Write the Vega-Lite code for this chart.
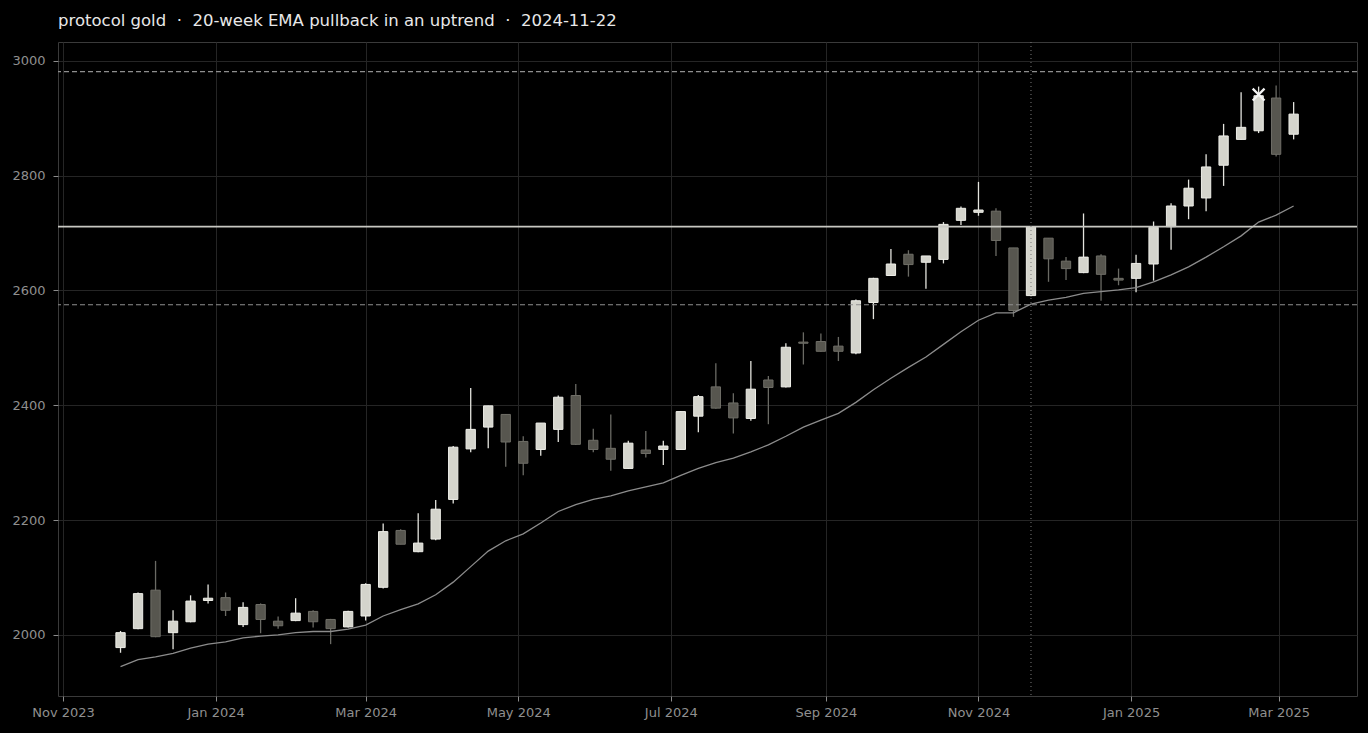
{
  "$schema": "https://vega.github.io/schema/vega-lite/v6.json",
  "description": "protocol gold weekly candles with 20-week EMA",
  "autosize": {"type": "none"},
  "width": 1299,
  "height": 654,
  "padding": {"left": 58, "top": 42, "right": 11, "bottom": 37},
  "background": "#000000",
  "title": {
    "text": "protocol gold\u00a0 · \u00a020-week EMA pullback in an uptrend\u00a0 · \u00a02024-11-22",
    "anchor": "start",
    "frame": "group",
    "offset": 12,
    "font": "DejaVu Sans",
    "fontSize": 16.5,
    "fontWeight": "normal",
    "color": "#e8e8e8"
  },
  "config": {
    "view": {"stroke": "#3a3a3a", "fill": "#000000"},
    "axis": {
      "domain": false,
      "grid": true,
      "gridColor": "#252525",
      "gridWidth": 1,
      "tickColor": "#8c8c8c",
      "tickSize": 5,
      "labelColor": "#8f8f8f",
      "labelFont": "DejaVu Sans",
      "labelFontSize": 13,
      "title": null,
      "zindex": 1
    }
  },
  "datasets": {
    "candles": [
      {"date": "2023-11-24", "open": 1978, "high": 2007, "low": 1969, "close": 2004, "ema": 1945},
      {"date": "2023-12-01", "open": 2011, "high": 2074, "low": 2010, "close": 2072, "ema": 1957},
      {"date": "2023-12-08", "open": 2078, "high": 2129, "low": 1996, "close": 1997, "ema": 1962},
      {"date": "2023-12-15", "open": 2004, "high": 2043, "low": 1975, "close": 2024, "ema": 1968},
      {"date": "2023-12-22", "open": 2023, "high": 2069, "low": 2022, "close": 2059, "ema": 1977},
      {"date": "2023-12-29", "open": 2060, "high": 2088, "low": 2055, "close": 2064, "ema": 1984},
      {"date": "2024-01-05", "open": 2065, "high": 2074, "low": 2033, "close": 2043, "ema": 1988},
      {"date": "2024-01-12", "open": 2018, "high": 2057, "low": 2014, "close": 2048, "ema": 1995},
      {"date": "2024-01-19", "open": 2053, "high": 2055, "low": 2003, "close": 2027, "ema": 1998},
      {"date": "2024-01-26", "open": 2024, "high": 2032, "low": 2011, "close": 2016, "ema": 2000},
      {"date": "2024-02-02", "open": 2025, "high": 2064, "low": 2024, "close": 2038, "ema": 2004},
      {"date": "2024-02-09", "open": 2041, "high": 2043, "low": 2013, "close": 2023, "ema": 2006},
      {"date": "2024-02-16", "open": 2027, "high": 2028, "low": 1984, "close": 2011, "ema": 2006},
      {"date": "2024-02-23", "open": 2014, "high": 2042, "low": 2013, "close": 2041, "ema": 2010},
      {"date": "2024-03-01", "open": 2033, "high": 2090, "low": 2025, "close": 2088, "ema": 2017},
      {"date": "2024-03-08", "open": 2083, "high": 2194, "low": 2081, "close": 2180, "ema": 2033},
      {"date": "2024-03-15", "open": 2182, "high": 2184, "low": 2158, "close": 2158, "ema": 2044},
      {"date": "2024-03-22", "open": 2145, "high": 2212, "low": 2144, "close": 2160, "ema": 2054},
      {"date": "2024-03-29", "open": 2167, "high": 2235, "low": 2165, "close": 2219, "ema": 2070},
      {"date": "2024-04-05", "open": 2236, "high": 2329, "low": 2229, "close": 2327, "ema": 2092},
      {"date": "2024-04-12", "open": 2324, "high": 2430, "low": 2318, "close": 2358, "ema": 2119},
      {"date": "2024-04-19", "open": 2362, "high": 2399, "low": 2325, "close": 2399, "ema": 2146},
      {"date": "2024-04-26", "open": 2384, "high": 2385, "low": 2293, "close": 2336, "ema": 2164},
      {"date": "2024-05-03", "open": 2337, "high": 2346, "low": 2278, "close": 2299, "ema": 2176},
      {"date": "2024-05-10", "open": 2323, "high": 2369, "low": 2312, "close": 2369, "ema": 2195},
      {"date": "2024-05-17", "open": 2358, "high": 2417, "low": 2336, "close": 2414, "ema": 2215},
      {"date": "2024-05-24", "open": 2417, "high": 2437, "low": 2331, "close": 2332, "ema": 2227},
      {"date": "2024-05-31", "open": 2339, "high": 2359, "low": 2318, "close": 2323, "ema": 2236},
      {"date": "2024-06-07", "open": 2325, "high": 2384, "low": 2286, "close": 2306, "ema": 2242},
      {"date": "2024-06-14", "open": 2290, "high": 2338, "low": 2289, "close": 2334, "ema": 2251},
      {"date": "2024-06-21", "open": 2322, "high": 2355, "low": 2309, "close": 2316, "ema": 2258},
      {"date": "2024-06-28", "open": 2323, "high": 2338, "low": 2296, "close": 2329, "ema": 2265},
      {"date": "2024-07-05", "open": 2323, "high": 2390, "low": 2322, "close": 2389, "ema": 2278},
      {"date": "2024-07-12", "open": 2381, "high": 2418, "low": 2353, "close": 2415, "ema": 2290},
      {"date": "2024-07-19", "open": 2432, "high": 2473, "low": 2394, "close": 2395, "ema": 2300},
      {"date": "2024-07-26", "open": 2404, "high": 2421, "low": 2351, "close": 2378, "ema": 2308},
      {"date": "2024-08-02", "open": 2377, "high": 2477, "low": 2373, "close": 2428, "ema": 2319},
      {"date": "2024-08-09", "open": 2444, "high": 2451, "low": 2367, "close": 2431, "ema": 2331},
      {"date": "2024-08-16", "open": 2432, "high": 2508, "low": 2431, "close": 2501, "ema": 2346},
      {"date": "2024-08-23", "open": 2510, "high": 2527, "low": 2471, "close": 2508, "ema": 2362},
      {"date": "2024-08-30", "open": 2511, "high": 2525, "low": 2493, "close": 2494, "ema": 2374},
      {"date": "2024-09-06", "open": 2503, "high": 2519, "low": 2477, "close": 2494, "ema": 2386},
      {"date": "2024-09-13", "open": 2491, "high": 2584, "low": 2489, "close": 2582, "ema": 2405},
      {"date": "2024-09-20", "open": 2579, "high": 2622, "low": 2550, "close": 2621, "ema": 2427},
      {"date": "2024-09-27", "open": 2626, "high": 2672, "low": 2625, "close": 2646, "ema": 2447},
      {"date": "2024-10-04", "open": 2663, "high": 2670, "low": 2624, "close": 2645, "ema": 2466},
      {"date": "2024-10-11", "open": 2649, "high": 2660, "low": 2603, "close": 2660, "ema": 2484},
      {"date": "2024-10-18", "open": 2654, "high": 2719, "low": 2647, "close": 2715, "ema": 2506},
      {"date": "2024-10-25", "open": 2722, "high": 2746, "low": 2714, "close": 2743, "ema": 2528},
      {"date": "2024-11-01", "open": 2736, "high": 2789, "low": 2730, "close": 2740, "ema": 2548},
      {"date": "2024-11-08", "open": 2738, "high": 2743, "low": 2660, "close": 2687, "ema": 2561},
      {"date": "2024-11-15", "open": 2674, "high": 2674, "low": 2554, "close": 2565, "ema": 2561},
      {"date": "2024-11-22", "open": 2591, "high": 2712, "low": 2590, "close": 2711, "ema": 2576},
      {"date": "2024-11-29", "open": 2691, "high": 2691, "low": 2615, "close": 2655, "ema": 2583},
      {"date": "2024-12-06", "open": 2651, "high": 2658, "low": 2618, "close": 2638, "ema": 2588},
      {"date": "2024-12-13", "open": 2631, "high": 2734, "low": 2630, "close": 2658, "ema": 2595},
      {"date": "2024-12-20", "open": 2660, "high": 2663, "low": 2582, "close": 2628, "ema": 2598},
      {"date": "2024-12-27", "open": 2621, "high": 2638, "low": 2609, "close": 2618, "ema": 2601},
      {"date": "2025-01-03", "open": 2621, "high": 2662, "low": 2597, "close": 2647, "ema": 2605},
      {"date": "2025-01-10", "open": 2646, "high": 2720, "low": 2617, "close": 2710, "ema": 2615},
      {"date": "2025-01-17", "open": 2711, "high": 2752, "low": 2671, "close": 2747, "ema": 2627},
      {"date": "2025-01-24", "open": 2747, "high": 2793, "low": 2724, "close": 2778, "ema": 2641},
      {"date": "2025-01-31", "open": 2761, "high": 2837, "low": 2738, "close": 2815, "ema": 2658},
      {"date": "2025-02-07", "open": 2818, "high": 2890, "low": 2782, "close": 2869, "ema": 2676},
      {"date": "2025-02-14", "open": 2863, "high": 2945, "low": 2863, "close": 2884, "ema": 2695},
      {"date": "2025-02-21", "open": 2878, "high": 2955, "low": 2874, "close": 2939, "ema": 2719},
      {"date": "2025-02-28", "open": 2935, "high": 2957, "low": 2833, "close": 2837, "ema": 2731},
      {"date": "2025-03-07", "open": 2872, "high": 2928, "low": 2863, "close": 2907, "ema": 2747}
    ],
    "levels": [
      {"level": "upper", "price": 2981},
      {"level": "pivot", "price": 2711},
      {"level": "lower", "price": 2575}
    ],
    "event": [{"date": "2024-11-22"}],
    "signal": [{"date": "2025-02-21", "price": 2941}]
  },
  "encoding": {
    "x": {
      "field": "date",
      "type": "temporal",
      "scale": {
        "type": "utc",
        "padding": 0,
        "domain": [
          {"year": 2023, "month": 10, "date": 30, "utc": true},
          {"year": 2025, "month": 4, "date": 1, "hours": 8, "utc": true}
        ]
      },
      "axis": {
        "values": [
          {"year": 2023, "month": 11, "date": 1, "utc": true},
          {"year": 2024, "month": 1, "date": 1, "utc": true},
          {"year": 2024, "month": 3, "date": 1, "utc": true},
          {"year": 2024, "month": 5, "date": 1, "utc": true},
          {"year": 2024, "month": 7, "date": 1, "utc": true},
          {"year": 2024, "month": 9, "date": 1, "utc": true},
          {"year": 2024, "month": 11, "date": 1, "utc": true},
          {"year": 2025, "month": 1, "date": 1, "utc": true},
          {"year": 2025, "month": 3, "date": 1, "utc": true}
        ],
        "format": "%b %Y",
        "labelPadding": 5
      }
    }
  },
  "layer": [
    {
      "data": {"name": "candles"},
      "mark": {"type": "rule", "strokeWidth": 1.3},
      "encoding": {
        "y": {
          "field": "low",
          "type": "quantitative",
          "scale": {"domain": [1893.7, 3032.6], "nice": false, "zero": false, "padding": 0},
          "axis": {"values": [2000, 2200, 2400, 2600, 2800, 3000], "format": "d", "labelPadding": 8}
        },
        "y2": {"field": "high"},
        "color": {
          "condition": {"test": "datum.close >= datum.open", "value": "#e4e4de"},
          "value": "#6a6a64"
        }
      }
    },
    {
      "data": {"name": "candles"},
      "mark": {"type": "bar", "width": 9.3, "strokeWidth": 1},
      "encoding": {
        "y": {"field": "open", "type": "quantitative"},
        "y2": {"field": "close"},
        "fill": {
          "condition": {"test": "datum.close >= datum.open", "value": "#d4d4cc"},
          "value": "#57564f"
        },
        "stroke": {
          "condition": {"test": "datum.close >= datum.open", "value": "#eeeee8"},
          "value": "#6f6e67"
        }
      }
    },
    {
      "data": {"name": "candles"},
      "mark": {"type": "line", "color": "#8c8c8c", "strokeWidth": 1.3},
      "encoding": {
        "y": {"field": "ema", "type": "quantitative"}
      }
    },
    {
      "data": {"name": "levels"},
      "transform": [{"filter": "datum.level != 'pivot'"}],
      "mark": {"type": "rule", "color": "#8e8e8e", "strokeWidth": 1.2, "strokeDash": [5, 3]},
      "encoding": {
        "x": null,
        "y": {"field": "price", "type": "quantitative"}
      }
    },
    {
      "data": {"name": "levels"},
      "transform": [{"filter": "datum.level == 'pivot'"}],
      "mark": {"type": "rule", "color": "#c8c8c2", "strokeWidth": 1.8},
      "encoding": {
        "x": null,
        "y": {"field": "price", "type": "quantitative"}
      }
    },
    {
      "data": {"name": "event"},
      "mark": {"type": "rule", "color": "#7a7a7a", "strokeWidth": 1, "strokeDash": [1, 3]},
      "encoding": {}
    },
    {
      "data": {"name": "signal"},
      "mark": {
        "type": "point",
        "shape": "M-1,-1L1,1M-1,1L1,-1",
        "filled": false,
        "stroke": "#f4f4f4",
        "strokeWidth": 2.3,
        "size": 140,
        "opacity": 1
      },
      "encoding": {
        "y": {"field": "price", "type": "quantitative"}
      }
    }
  ]
}
